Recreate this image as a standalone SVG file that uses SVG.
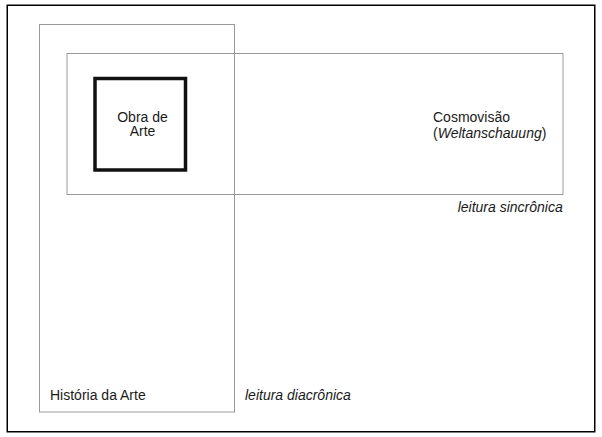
<svg xmlns="http://www.w3.org/2000/svg" width="602" height="437" viewBox="0 0 602 437">
<style>
text { font-family: "Liberation Sans", Arial, sans-serif; font-size: 14px; fill: #1a1a1a; }
.it { font-style: italic; }
.frame { fill: none; stroke: #000; stroke-width: 1.5; }
.gray { fill: none; stroke: #9a9a9a; stroke-width: 1; }
.bold { fill: none; stroke: #111; stroke-width: 3.5; }
</style>
<rect width="602" height="437" fill="#fff"/>
<rect class="frame" x="7.25" y="5.25" width="587.5" height="426.5"/>
<g id="historia">
  <rect class="gray" x="39.5" y="24.5" width="195" height="387.5"/>
  <text x="50" y="399.5">História da Arte</text>
</g>
<g id="cosmovisao">
  <rect class="gray" x="67" y="53.5" width="496" height="141"/>
  <text x="433" y="121.7">Cosmovisão</text>
  <text x="433" y="137.7">(<tspan class="it">Weltanschauung</tspan>)</text>
</g>
<g id="obra">
  <rect class="bold" x="95" y="78.5" width="90.5" height="91.5"/>
  <text x="142.5" y="121.7" text-anchor="middle">Obra de</text>
  <text x="142.5" y="136.2" text-anchor="middle">Arte</text>
</g>
<g id="labels">
  <text class="it" x="562.7" y="212.3" text-anchor="end">leitura sincrônica</text>
  <text class="it" x="245" y="399.5">leitura diacrônica</text>
</g>
<g id="connectors"></g>
</svg>
